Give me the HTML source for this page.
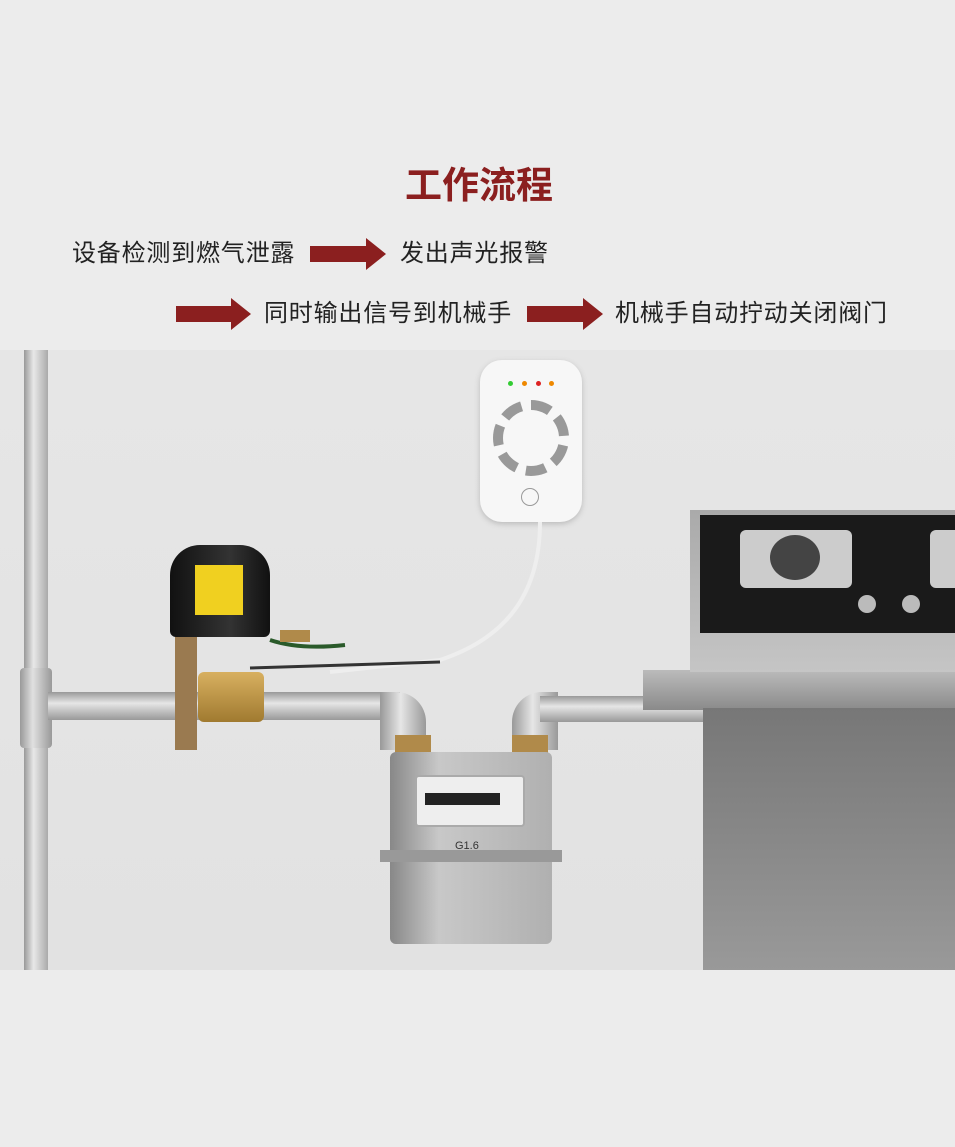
<!DOCTYPE html>
<html><head><meta charset="utf-8"><style>
*{margin:0;padding:0;box-sizing:border-box}
body{width:955px;height:1147px;background:#ececec;position:relative;overflow:hidden;font-family:"Liberation Sans","Noto Sans CJK SC",sans-serif}
.a{position:absolute}
.t{position:absolute;font-size:24px;letter-spacing:0.8px;color:#222;white-space:nowrap;line-height:1}
.arr{position:absolute;height:32px}
.arr .s{position:absolute;left:0;top:8px;height:16px;background:#8b1f1f}
.arr .h{position:absolute;top:0;width:0;height:0;border-top:16px solid transparent;border-bottom:16px solid transparent;border-left:20px solid #8b1f1f}
</style></head><body>
<div class="t" style="left:405px;top:167px;font-size:37px;letter-spacing:0;font-weight:bold;color:#8b1f1f">工作流程</div>
<div class="t" style="left:72px;top:242px">设备检测到燃气泄露</div>
<div class="arr" style="left:310px;top:238px;width:76px"><div class="s" style="width:56px"></div><div class="h" style="left:56px"></div></div>
<div class="t" style="left:400px;top:242px">发出声光报警</div>
<div class="arr" style="left:176px;top:298px;width:75px"><div class="s" style="width:55px"></div><div class="h" style="left:55px"></div></div>
<div class="t" style="left:264px;top:302px">同时输出信号到机械手</div>
<div class="arr" style="left:527px;top:298px;width:76px"><div class="s" style="width:56px"></div><div class="h" style="left:56px"></div></div>
<div class="t" style="left:615px;top:302px">机械手自动拧动关闭阀门</div>

<div class="a" style="left:0;top:350px;width:955px;height:620px;background:linear-gradient(#e6e6e6,#e2e2e2)"></div>
<div class="a" style="left:24px;top:350px;width:24px;height:620px;background:linear-gradient(90deg,#999,#e8e8e8 40%,#aaa)"></div>
<div class="a" style="left:20px;top:668px;width:32px;height:80px;background:linear-gradient(90deg,#999,#e0e0e0 40%,#999);border-radius:4px"></div>
<div class="a" style="left:48px;top:692px;width:352px;height:28px;background:linear-gradient(#999,#e6e6e6 40%,#999)"></div>
<div class="a" style="left:380px;top:692px;width:46px;height:58px;background:linear-gradient(90deg,#999,#e6e6e6 45%,#999);border-radius:0 30px 0 0"></div>
<div class="a" style="left:395px;top:735px;width:36px;height:18px;background:#b08a4a"></div>
<div class="a" style="left:512px;top:692px;width:46px;height:58px;background:linear-gradient(90deg,#999,#e6e6e6 45%,#999);border-radius:30px 0 0 0"></div>
<div class="a" style="left:540px;top:696px;width:165px;height:26px;background:linear-gradient(#999,#e6e6e6 40%,#999)"></div>
<div class="a" style="left:512px;top:735px;width:36px;height:18px;background:#b08a4a"></div>
<div class="a" style="left:390px;top:752px;width:162px;height:192px;background:linear-gradient(90deg,#888,#c8c8c8 30%,#b0b0b0);border-radius:6px"></div>
<div class="a" style="left:380px;top:850px;width:182px;height:12px;background:#999"></div>
<div class="a" style="left:415px;top:775px;width:110px;height:52px;background:#eee;border:2px solid #aaa;border-radius:4px"></div>
<div class="a" style="left:425px;top:793px;width:75px;height:12px;background:#222"></div>
<div class="a" style="left:455px;top:840px;font-size:11px;color:#333">G1.6</div>
<div class="a" style="left:643px;top:670px;width:312px;height:40px;background:linear-gradient(#bbb,#8a8a8a)"></div>
<div class="a" style="left:703px;top:708px;width:252px;height:262px;background:linear-gradient(#777,#999)"></div>
<div class="a" style="left:690px;top:510px;width:265px;height:162px;background:linear-gradient(#aaa,#c5c5c5)"></div>
<div class="a" style="left:700px;top:515px;width:255px;height:118px;background:#1a1a1a"></div>
<div class="a" style="left:740px;top:530px;width:112px;height:58px;background:#ccc;border-radius:6px"></div>
<div class="a" style="left:770px;top:535px;width:50px;height:45px;background:#444;border-radius:50%"></div>
<div class="a" style="left:930px;top:530px;width:25px;height:58px;background:#ccc;border-radius:6px 0 0 6px"></div>
<div class="a" style="left:858px;top:595px;width:18px;height:18px;background:#bbb;border-radius:50%"></div>
<div class="a" style="left:902px;top:595px;width:18px;height:18px;background:#bbb;border-radius:50%"></div>
<div class="a" style="left:480px;top:360px;width:102px;height:162px;background:#f7f7f7;border-radius:22px;box-shadow:0 2px 6px #bbb"></div>
<div class="a" style="left:493px;top:400px;width:76px;height:76px;border-radius:50%;border:10px dashed #999"></div>
<div class="a" style="left:521px;top:488px;width:18px;height:18px;border-radius:50%;border:1px solid #999"></div>
<div class="a" style="left:508px;top:381px;width:5px;height:5px;border-radius:50%;background:#3c3"></div>
<div class="a" style="left:522px;top:381px;width:5px;height:5px;border-radius:50%;background:#e80"></div>
<div class="a" style="left:536px;top:381px;width:5px;height:5px;border-radius:50%;background:#d22"></div>
<div class="a" style="left:549px;top:381px;width:5px;height:5px;border-radius:50%;background:#e80"></div>
<svg class="a" style="left:0;top:0" width="955" height="1147">
<path d="M540 522 C540 600 500 640 440 660 L330 672" stroke="#eee" stroke-width="4" fill="none"/>
<path d="M440 662 L250 668" stroke="#333" stroke-width="3" fill="none"/>
<path d="M270 640 Q300 650 345 645" stroke="#2a5a2a" stroke-width="4" fill="none"/>
</svg>
<div class="a" style="left:198px;top:672px;width:66px;height:50px;background:linear-gradient(#d8b060,#a07a30);border-radius:6px"></div>
<div class="a" style="left:175px;top:630px;width:22px;height:120px;background:#9a7a50"></div>
<div class="a" style="left:170px;top:545px;width:100px;height:92px;background:linear-gradient(90deg,#111,#333 60%,#111);border-radius:30px 30px 6px 6px"></div>
<div class="a" style="left:195px;top:565px;width:48px;height:50px;background:#f0d020"></div>
<div class="a" style="left:280px;top:630px;width:30px;height:12px;background:#b08a4a"></div>
</body></html>
